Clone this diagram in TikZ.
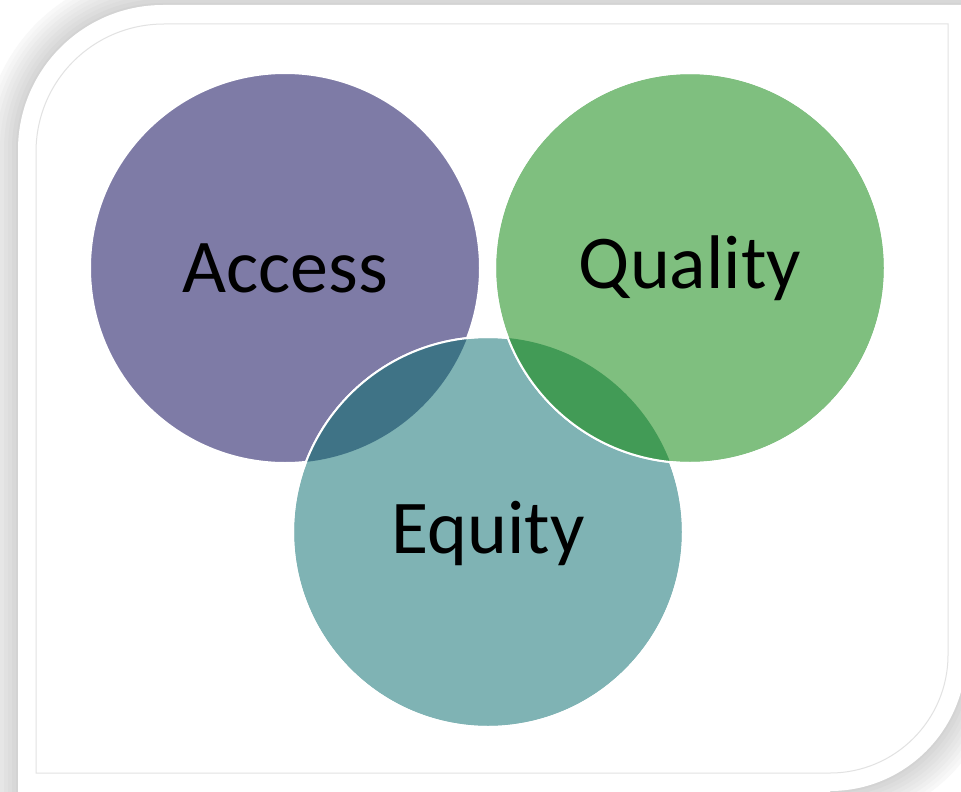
\documentclass[tikz,border=0pt]{standalone}
\usepackage{fontspec}
\setmainfont{Carlito}
\usetikzlibrary{positioning}
\definecolor{accessfill}{HTML}{7E7BA6}
\definecolor{qualityfill}{HTML}{7FBF7F}
\definecolor{equityfill}{HTML}{7FB3B4}
\definecolor{accesseq}{HTML}{3F7386}
\definecolor{qualityeq}{HTML}{429B56}
\definecolor{framegray}{HTML}{E2E2E2}
\tikzset{
  venn/.style={circle, draw=white, line width=2pt, minimum size=390pt, inner sep=0pt},
  vennlabel/.style={anchor=base, font=\fontsize{76}{90}\selectfont, text=black},
  frameline/.style={draw=framegray, line width=1pt}
}
% outline of the white card (two rounded corners)
\newcommand{\cardoutline}{(18,820) -- (18,150)
    .. controls (18,70) and (83,5) .. (163,5) -- (966,5) -- (966,655)
    .. controls (966,730) and (905,791) .. (830,791) -- (830,820) -- cycle}

\begin{document}
\begin{tikzpicture}[x=1pt, y=-1pt]
  \useasboundingbox (0,0) rectangle (961,792);
  % soft shadow round the card
  \fill[white] (0,0) rectangle (961,792);
  \foreach \d in {34,30,...,2} {
    \pgfmathsetmacro{\shadelevel}{18-0.45*\d}
    \draw[black!\shadelevel, line width=2*\d pt] \cardoutline;
  }
  \fill[white] \cardoutline;
  % inner border
  \draw[frameline] (36,773) -- (36,152)
    .. controls (36,81) and (93,24) .. (164,24) -- (948,24) -- (948,655)
    .. controls (948,720) and (895,773) .. (830,773) -- cycle;

  % circles
  \node[venn, fill=accessfill] (access) at (285,268) {};
  \node[venn, fill=equityfill] (equity) at (488,532) {};
  \begin{scope}
    \clip (access.center) circle[radius=195pt];
    \fill[accesseq] (equity.center) circle[radius=195pt];
  \end{scope}
  \draw[white, line width=2pt] (equity.center) circle[radius=195pt];
  \node[venn, fill=qualityfill] (quality) at (690,268) {};
  \begin{scope}
    \clip (equity.center) circle[radius=195pt];
    \fill[qualityeq] (quality.center) circle[radius=195pt];
  \end{scope}
  \draw[white, line width=2pt] (quality.center) circle[radius=195pt];

  % labels
  \node[vennlabel] (accesstext) at (285,292) {Access};
  \node[vennlabel] (qualitytext) at (690,288) {Quality};
  \node[vennlabel] (equitytext) at (488,553) {Equity};
\end{tikzpicture}
\end{document}
